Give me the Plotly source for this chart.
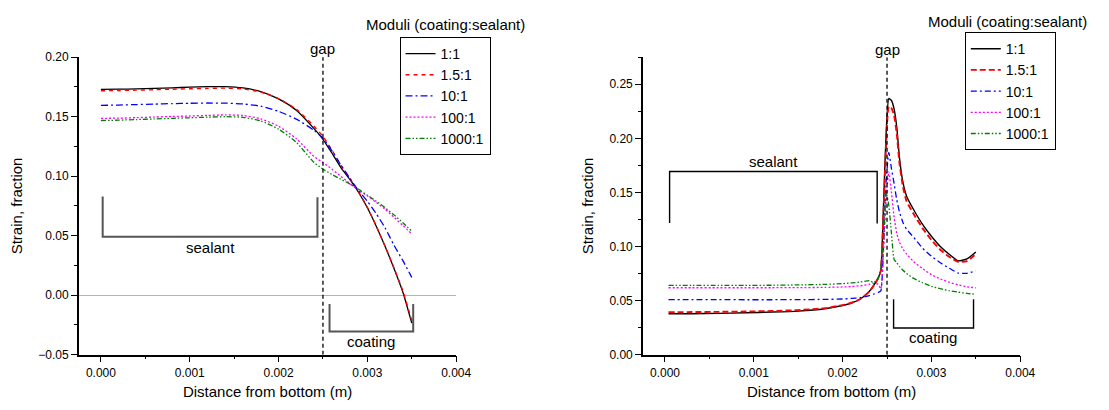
import plotly.graph_objects as go

FONT = "Liberation Sans, Arial, sans-serif"

series_names = ["1:1", "1.5:1", "10:1", "100:1", "1000:1"]

# ---- left panel: strain vs distance from bottom ----
left_x = [0.0, 0.0002, 0.0004, 0.0006, 0.0008, 0.001, 0.0012, 0.0014, 0.0016,
          0.0018, 0.002, 0.0022, 0.0024, 0.0025, 0.0026, 0.0027, 0.0028, 0.0029,
          0.003, 0.0031, 0.0032, 0.0033, 0.0034, 0.0035]
left_1_1 = [0.1730, 0.1731, 0.1734, 0.1738, 0.1743, 0.1748, 0.1752, 0.1753, 0.1742,
            0.1711, 0.1650, 0.1555, 0.1400, 0.1310, 0.1195, 0.1075, 0.0975, 0.0865,
            0.0735, 0.0580, 0.0410, 0.0225, 0.0025, -0.0235]
left_1_5_1 = [0.1718, 0.1720, 0.1723, 0.1727, 0.1731, 0.1735, 0.1738, 0.1740, 0.1733,
              0.1707, 0.1652, 0.1562, 0.1420, 0.1335, 0.1220, 0.1095, 0.0985, 0.0870,
              0.0738, 0.0582, 0.0410, 0.0228, 0.0035, -0.0215]
left_10_1 = [0.1595, 0.1598, 0.1602, 0.1606, 0.1610, 0.1613, 0.1615, 0.1614, 0.1607,
             0.1588, 0.1545, 0.1480, 0.1385, 0.1320, 0.1215, 0.1095, 0.0985, 0.0880,
             0.0790, 0.0685, 0.0565, 0.0420, 0.0290, 0.0150]
left_100_1 = [0.1486, 0.1488, 0.1492, 0.1497, 0.1502, 0.1506, 0.1511, 0.1515, 0.1510,
              0.1482, 0.1420, 0.1315, 0.1165, 0.1115, 0.1060, 0.1000, 0.0940, 0.0885,
              0.0835, 0.0780, 0.0722, 0.0655, 0.0585, 0.0515]
left_1000_1 = [0.1468, 0.1471, 0.1476, 0.1481, 0.1486, 0.1491, 0.1496, 0.1500, 0.1495,
               0.1465, 0.1395, 0.1285, 0.1115, 0.1060, 0.1015, 0.0975, 0.0935, 0.0890,
               0.0840, 0.0790, 0.0735, 0.0675, 0.0608, 0.0538]

# ---- right panel ----
right_x = [0.00004, 0.0003, 0.0006, 0.0009, 0.0012, 0.0015, 0.0018, 0.002, 0.0021,
           0.0022, 0.0023, 0.00235, 0.0024, 0.00243, 0.00246, 0.00249, 0.00252,
           0.00255, 0.00258, 0.00261, 0.00264, 0.00268, 0.00272, 0.0028, 0.0029,
           0.003, 0.0031, 0.0032, 0.0033, 0.0034, 0.0035]
right_1_1 = [0.0378, 0.0379, 0.0382, 0.0387, 0.0394, 0.0403, 0.0425, 0.0455, 0.0478,
             0.0515, 0.0585, 0.0640, 0.0710, 0.0780, 0.1370, 0.2050, 0.2368,
             0.2350, 0.2270, 0.2100, 0.1820, 0.1590, 0.1465, 0.1340, 0.1205,
             0.1095, 0.1000, 0.0928, 0.0868, 0.0885, 0.0950]
right_1_5_1 = [0.0393, 0.0394, 0.0396, 0.0399, 0.0404, 0.0412, 0.0430, 0.0458, 0.0480,
               0.0515, 0.0582, 0.0638, 0.0705, 0.0775, 0.1300, 0.1950, 0.2295,
               0.2280, 0.2210, 0.2040, 0.1770, 0.1550, 0.1420, 0.1300, 0.1170,
               0.1060, 0.0970, 0.0905, 0.0858, 0.0865, 0.0930]
right_10_1 = [0.0509, 0.0509, 0.0509, 0.0508, 0.0508, 0.0509, 0.0511, 0.0515, 0.0520,
              0.0528, 0.0545, 0.0560, 0.0575, 0.0590, 0.1000, 0.1600, 0.1870,
              0.1720, 0.1580, 0.1430, 0.1320, 0.1220, 0.1160, 0.1085, 0.0985,
              0.0910, 0.0850, 0.0800, 0.0755, 0.0752, 0.0775]
right_100_1 = [0.0619, 0.0619, 0.0619, 0.0619, 0.0619, 0.0620, 0.0622, 0.0626, 0.0630,
               0.0637, 0.0650, 0.0660, 0.0650, 0.0610, 0.0950, 0.1450, 0.1690,
               0.1500, 0.1270, 0.1120, 0.1040, 0.0975, 0.0930, 0.0860, 0.0795,
               0.0740, 0.0700, 0.0670, 0.0645, 0.0628, 0.0618]
right_1000_1 = [0.0640, 0.0640, 0.0640, 0.0641, 0.0642, 0.0645, 0.0650, 0.0657, 0.0663,
                0.0672, 0.0685, 0.0668, 0.0700, 0.0800, 0.1050, 0.1500, 0.1380,
                0.1120, 0.0880, 0.0850, 0.0815, 0.0780, 0.0750, 0.0705, 0.0665,
                0.0632, 0.0610, 0.0592, 0.0578, 0.0567, 0.0558]

left_series = [left_1_1, left_1_5_1, left_10_1, left_100_1, left_1000_1]
right_series = [right_1_1, right_1_5_1, right_10_1, right_100_1, right_1000_1]

colors = ["#000000", "#ff0000", "#0000ff", "#ff00ff", "#008000"]
left_dash = ["solid", "4px,4px", "7px,3px,2px,3px", "2px,2px", "5px,2px,1.5px,2px,1.5px,2px"]
right_dash = ["solid", "6px,3px", "6px,3px,2px,3px", "2px,2px", "5px,2px,1.5px,2px,1.5px,2px"]
left_width = [1.3, 1.4, 1.3, 1.3, 1.3]
right_width = [1.4, 1.9, 1.3, 1.3, 1.3]

fig = go.Figure()

for name, ys, c, d, w in zip(series_names, left_series, colors, left_dash, left_width):
    fig.add_trace(go.Scatter(
        x=left_x, y=ys, name=name, mode="lines", xaxis="x", yaxis="y",
        line=dict(color=c, dash=d, width=w, shape="spline", smoothing=0.6),
        legend="legend",
    ))

for name, ys, c, d, w in zip(series_names, right_series, colors, right_dash, right_width):
    fig.add_trace(go.Scatter(
        x=right_x, y=ys, name=name, mode="lines", xaxis="x2", yaxis="y2",
        line=dict(color=c, dash=d, width=w, shape="spline", smoothing=0.5),
        legend="legend2",
    ))

x_common = dict(
    range=[-0.000248, 0.0040001], tick0=0, dtick=0.001, tickformat=".3f",
    showline=True, linecolor="black", linewidth=1.5, mirror=False,
    ticks="outside", ticklen=6, tickwidth=1.2, tickcolor="black",
    minor=dict(dtick=0.0005, ticks="outside", ticklen=3, tickwidth=1, tickcolor="black"),
    showgrid=False, zeroline=False,
    tickfont=dict(size=12, color="black"),
    title=dict(text="Distance from bottom (m)", font=dict(size=15, color="black"), standoff=8),
)
y_common = dict(
    tick0=0, dtick=0.05, tickformat=".2f",
    showline=True, linecolor="black", linewidth=1.5, mirror=False,
    ticks="outside", ticklen=6, tickwidth=1.2, tickcolor="black",
    minor=dict(dtick=0.025, ticks="outside", ticklen=3, tickwidth=1, tickcolor="black"),
    showgrid=False,
    tickfont=dict(size=12, color="black"),
    title=dict(text="Strain, fraction", font=dict(size=15, color="black"), standoff=12),
)

legend_common = dict(
    xanchor="left", yanchor="top", bgcolor="white", bordercolor="black",
    borderwidth=1, font=dict(size=14, color="black"), tracegroupgap=0,
)

fig.update_layout(
    width=1109, height=410,
    margin=dict(l=0, r=0, t=0, b=0),
    paper_bgcolor="white", plot_bgcolor="white",
    font=dict(family=FONT, color="black"),
    showlegend=True,
    xaxis=dict(domain=[0.0721, 0.4170], anchor="y", **x_common),
    yaxis=dict(domain=[0.1220, 0.8732], anchor="x", range=[-0.05, 0.2000001],
               zeroline=True, zerolinecolor="#b4b4b4", zerolinewidth=1, **y_common),
    xaxis2=dict(domain=[0.5877, 0.9326], anchor="y2", **x_common),
    yaxis2=dict(domain=[0.1220, 0.8732], anchor="x2", range=[0, 0.275],
                zeroline=False, **y_common),
    legend=dict(x=0.3652, y=0.9244, **legend_common),
    legend2=dict(x=0.8819, y=0.9366, **legend_common),
)

bracket_left = dict(color="#555555", width=2)
bracket_right = dict(color="#000000", width=1.4)
gap_line = dict(color="black", width=1.3, dash="4px,3px")

shapes = [
    # left panel: sealant / coating brackets and gap marker
    dict(type="path", xref="x", yref="y", line=bracket_left,
         path="M 0.00002 0.0829 L 0.00002 0.0491 L 0.002438 0.0491 L 0.002438 0.0823"),
    dict(type="path", xref="x", yref="y", line=bracket_left,
         path="M 0.002574 -0.0073 L 0.002574 -0.0306 L 0.003516 -0.0306 L 0.003516 -0.0073"),
    dict(type="line", xref="x", yref="y", x0=0.0025, x1=0.0025, y0=-0.05, y1=0.203, line=gap_line),
    # right panel
    dict(type="path", xref="x2", yref="y2", line=bracket_right,
         path="M 0.000052 0.1218 L 0.000052 0.1693 L 0.002389 0.1693 L 0.002389 0.1212"),
    dict(type="path", xref="x2", yref="y2", line=bracket_right,
         path="M 0.002574 0.0512 L 0.002574 0.0247 L 0.003474 0.0247 L 0.003474 0.0512"),
    dict(type="line", xref="x2", yref="y2", x0=0.0025, x1=0.0025, y0=0, y1=0.275, line=gap_line),
]
fig.update_layout(shapes=shapes)

txt = dict(size=15, color="black")
ann = dict(showarrow=False, font=txt, xanchor="center", yanchor="middle")
annotations = [
    dict(text="sealant", x=0.00123, y=0.040, xref="x", yref="y", **ann),
    dict(text="coating", x=0.00304, y=-0.0387, xref="x", yref="y", **ann),
    dict(text="gap", x=0.0025, y=0.895, xref="x", yref="paper", **ann),
    dict(text="Moduli (coating:sealant)", x=0.4071, y=0.956, xref="paper", yref="paper", **ann),
    dict(text="sealant", x=0.001226, y=0.179, xref="x2", yref="y2", **ann),
    dict(text="coating", x=0.00302, y=0.0158, xref="x2", yref="y2", **ann),
    dict(text="gap", x=0.0025, y=0.8927, xref="x2", yref="paper", **ann),
    dict(text="Moduli (coating:sealant)", x=0.9211, y=0.9634, xref="paper", yref="paper", **ann),
]
fig.update_layout(annotations=annotations)

fig.write_html("out.html")
